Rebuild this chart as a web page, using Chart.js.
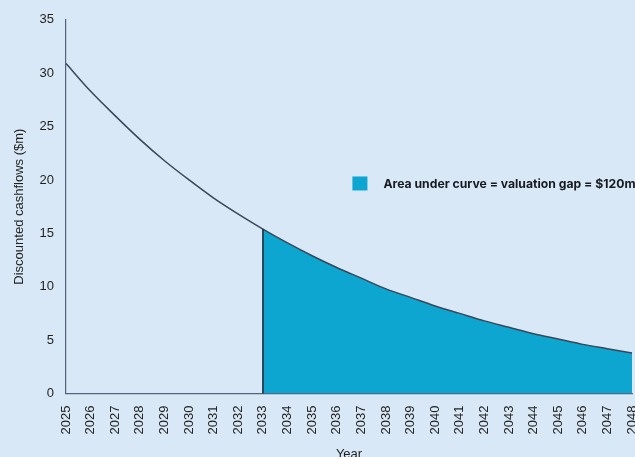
<!DOCTYPE html>
<html>
<head>
<meta charset="utf-8">
<script src="https://cdn.jsdelivr.net/npm/chart.js@4/dist/chart.umd.min.js"></script>
<style>
  html, body { margin: 0; padding: 0; background: #d9e8f6; overflow: hidden; }
  #wrap { position: absolute; left: 0; top: 0; width: 635px; height: 457px; overflow: hidden; }
  canvas { display: block; }
</style>
</head>
<body>
<div id="wrap"><canvas id="c" width="660" height="470"></canvas></div>
<script>
// Discounted cashflows by year ($m)
const years = ['2025','2026','2027','2028','2029','2030','2031','2032','2033','2034','2035','2036',
               '2037','2038','2039','2040','2041','2042','2043','2044','2045','2046','2047','2048'];
const cashflows = [30.9, 28.3, 26.0, 23.8, 21.8, 20.0, 18.3, 16.8, 15.4, 14.1, 12.9, 11.8,
                   10.8, 9.8, 9.0, 8.2, 7.5, 6.8, 6.2, 5.6, 5.1, 4.6, 4.2, 3.8];
const gapStartYear = '2033';
const gapLabel = 'Area under curve = valuation gap = $120m';
const yTicks = [0, 5, 10, 15, 20, 25, 30, 35];

const gapStart = years.indexOf(gapStartYear);
const gapValues = cashflows.map((v, i) => (i >= gapStart ? v : null));

const FILL = '#0ca6d0';
const LINE = '#3a4659';
const AXIS = '#56627a';

// Legend drawn inside the plot, plus the vertical edge of the shaded area
const gapPlugin = {
  id: 'gapPlugin',
  afterDatasetsDraw(chart) {
    const { ctx, chartArea, scales } = chart;
    const x = scales.x.getPixelForValue(gapStart);
    const yTop = scales.y.getPixelForValue(cashflows[gapStart]);
    const yBot = scales.y.getPixelForValue(0);
    ctx.save();
    ctx.strokeStyle = '#1b2433';
    ctx.lineWidth = 1.5;
    ctx.beginPath();
    ctx.moveTo(x, yTop);
    ctx.lineTo(x, yBot);
    ctx.stroke();

    const lx = chartArea.left + chartArea.width * 0.506;
    const ly = chartArea.top + chartArea.height * 0.438;
    ctx.fillStyle = FILL;
    ctx.fillRect(lx, ly - 7, 15, 14);
    ctx.fillStyle = '#161a22';
    ctx.font = 'bold 12.2px Inter, "Liberation Sans", sans-serif';
    ctx.textBaseline = 'middle';
    ctx.textAlign = 'left';
    ctx.fillText(gapLabel, lx + 31, ly + 0.5);
    ctx.restore();
  }
};

const tickFont = { family: '"Liberation Sans", Arial, sans-serif', size: 13 };

new Chart(document.getElementById('c'), {
  type: 'line',
  data: {
    labels: years,
    datasets: [
      {
        label: 'Discounted cashflows',
        data: cashflows,
        borderColor: LINE,
        borderWidth: 1.5,
        pointRadius: 0,
        cubicInterpolationMode: 'monotone',
        fill: false,
        order: 0
      },
      {
        label: gapLabel,
        data: gapValues,
        borderWidth: 0,
        borderColor: 'rgba(0,0,0,0)',
        backgroundColor: FILL,
        pointRadius: 0,
        cubicInterpolationMode: 'monotone',
        fill: 'origin',
        order: 1
      }
    ]
  },
  options: {
    responsive: false,
    animation: false,
    layout: { padding: { top: 8, right: 28, bottom: 4, left: 8 } },
    plugins: { legend: { display: false }, tooltip: { enabled: false } },
    scales: {
      x: {
        offset: false,
        grid: { display: false, drawTicks: false },
        border: { display: true, color: AXIS, width: 1.2 },
        ticks: {
          color: '#1f1f1f', font: tickFont, padding: 12,
          autoSkip: false, maxRotation: 90, minRotation: 90
        },
        title: { display: true, text: 'Year', color: '#1f1f1f', font: tickFont, padding: { top: 0, bottom: 4 } }
      },
      y: {
        min: 0, max: 35,
        afterBuildTicks(axis) { axis.ticks = yTicks.map(v => ({ value: v })); },
        grid: { display: false, drawTicks: false },
        border: { display: true, color: AXIS, width: 1.2 },
        ticks: { color: '#1f1f1f', font: tickFont, padding: 12 },
        title: { display: true, text: 'Discounted cashflows ($m)', color: '#1f1f1f', font: tickFont, padding: { top: 4, bottom: 0 } }
      }
    }
  },
  plugins: [gapPlugin]
});
</script>
</body>
</html>
